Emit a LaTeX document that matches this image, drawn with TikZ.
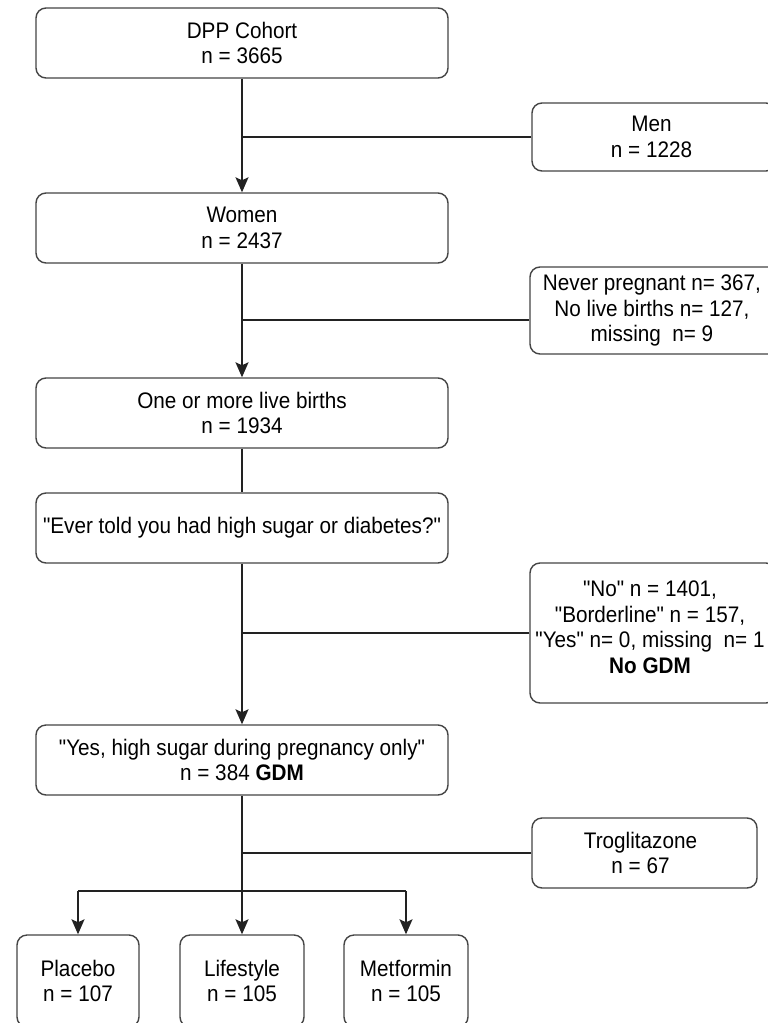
\documentclass[tikz,border=0pt]{standalone}
\usepackage{fontspec}
\setmainfont{Liberation Sans}[FakeStretch=0.92, Ligatures=TeXOff]
\usetikzlibrary{arrows.meta}
\definecolor{boxline}{HTML}{454545}
\definecolor{conn}{HTML}{222222}
\tikzset{
  box/.style={draw=boxline, line width=1.4pt, rounded corners=10pt, align=center,
    inner sep=0pt, font=\fontsize{22.5}{25.5}\selectfont, text=black},
  mainbox/.style={box, minimum width=412pt, minimum height=70pt},
  link/.style={draw=conn, line width=1.4pt},
  arr/.style={link, -{Stealth[length=15pt, width=13pt, inset=3pt]}}
}
\begin{document}
\begin{tikzpicture}[x=1pt,y=-1pt]
\useasboundingbox (0,0) rectangle (768,1023);
\clip (0,0) rectangle (768,1023);
\fill[white] (0,0) rectangle (768,1023);

\node[mainbox] (dpp) at (242,43) {DPP Cohort\\n = 3665};
\node[box, minimum width=244pt, minimum height=68pt] (men) at (654,137) {\hspace*{-5pt}Men\\\hspace*{-5pt}n = 1228};
\node[mainbox] (women) at (242,228) {Women\\n = 2437};
\node[box, minimum width=250pt, minimum height=87pt] (never) at (655,310.5)
  {\hspace*{-6pt}Never pregnant n= 367,\\\hspace*{-6pt}No live births n= 127,\\\hspace*{-6pt}missing\ \ n= 9};
\node[mainbox] (births) at (242,413) {One or more live births\\n = 1934};
\node[mainbox] (ever) at (242,528) {"Ever told you had high sugar or diabetes?"};
\node[box, minimum width=246pt, minimum height=140pt] (no) at (653,633)
  {\hspace*{-6pt}"No" n = 1401,\\\hspace*{-6pt}"Borderline" n = 157,\\\hspace*{-6pt}"Yes" n= 0, missing\ \ n= 1\\\hspace*{-6pt}\textbf{No GDM}\\[-13.5pt]};
\node[mainbox] (yes) at (242,760) {"Yes, high sugar during pregnancy only"\\n = 384 \textbf{GDM}};
\node[box, minimum width=225pt, minimum height=70pt] (trog) at (644.5,853) {\hspace*{-8pt}Troglitazone\\\hspace*{-8pt}n = 67};

\node[box, minimum width=122pt, minimum height=92pt] (plac) at (78,981) {Placebo\\n = 107};
\node[box, minimum width=124pt, minimum height=92pt] (life) at (242,981) {Lifestyle\\n = 105};
\node[box, minimum width=124pt, minimum height=92pt] (metf) at (406,981) {Metformin\\n = 105};

% main spine
\draw[arr] (dpp.south) -- (women.north);
\draw[link] (men.west) -- (men.west -| dpp.south);
\draw[arr] (women.south) -- (births.north);
\draw[link] ([yshift=-9.5pt]never.west) -- ([yshift=-9.5pt]never.west -| women.south);
\draw[link] (births.south) -- (ever.north);
\draw[arr] (ever.south) -- (yes.north);
\draw[link] (no.west) -- (no.west -| ever.south);
\draw[arr] (yes.south) -- (life.north);
\draw[link] (trog.west) -- (trog.west -| yes.south);

\coordinate (split) at (242,891);
\draw[link] (split -| plac.north) -- (split -| metf.north);
\draw[arr] (split -| plac.north) -- (plac.north);
\draw[arr] (split -| metf.north) -- (metf.north);
\end{tikzpicture}
\end{document}
